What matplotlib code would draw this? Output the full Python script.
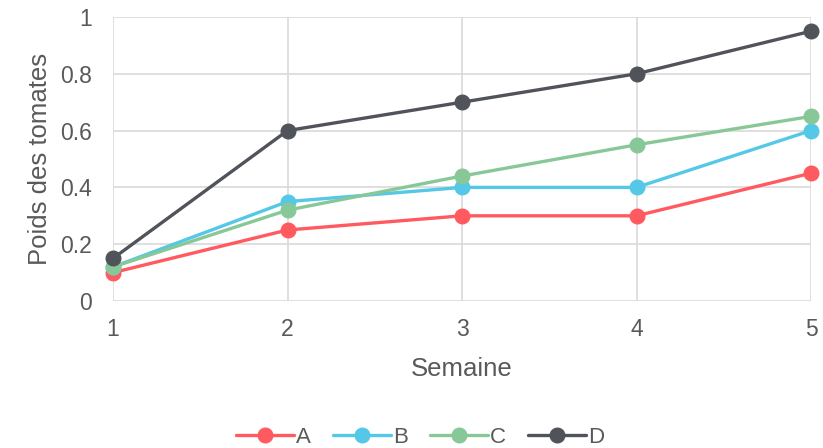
import numpy as np
import matplotlib.pyplot as plt

plt.rcParams['font.family'] = ['Liberation Sans', 'DejaVu Sans']

# data
semaines = [1, 2, 3, 4, 5]
serie_a = [0.10, 0.25, 0.30, 0.30, 0.45]
serie_b = [0.12, 0.35, 0.40, 0.40, 0.60]
serie_c = [0.12, 0.32, 0.44, 0.55, 0.65]
serie_d = [0.15, 0.60, 0.70, 0.80, 0.95]
noms = ['A', 'B', 'C', 'D']
couleurs = ['#FF5A5F', '#55C8E8', '#88C898', '#50535A']

fig = plt.figure(figsize=(8.23, 4.48), dpi=100)
ax = fig.add_axes([113 / 823, 1 - 301 / 448, (811 - 113) / 823, (301 - 17) / 448])

for vals, nom, col in zip([serie_a, serie_b, serie_c, serie_d], noms, couleurs):
    ax.plot(semaines, vals, color=col, lw=2.4, marker='o', ms=10.5, label=nom,
            solid_capstyle='round', clip_on=False, zorder=3)

ax.set_xlim(1, 5)
ax.set_ylim(0, 1)
ax.set_xticks(semaines)
ax.set_yticks([0, 0.2, 0.4, 0.6, 0.8, 1])
ax.set_yticklabels(['0', '0.2', '0.4', '0.6', '0.8', '1'])
ax.grid(True, color='#D9D9D9', lw=1.2)
ax.set_axisbelow(True)
for s in ax.spines.values():
    s.set_visible(False)
ax.tick_params(length=0, labelsize=16.5, colors='#595959')
ax.tick_params(axis='y', pad=15)
ax.tick_params(axis='x', pad=12)
ax.set_xlabel('Semaine', fontsize=18.5, color='#595959', labelpad=12)
ax.set_ylabel('Poids des tomates', fontsize=18.5, color='#595959', labelpad=6)

leg = fig.legend(loc='center', bbox_to_anchor=(420 / 823, 1 - 437 / 448), ncol=4,
                 frameon=False, fontsize=16, handlelength=2.6, handletextpad=0.1,
                 columnspacing=1.0)
for t in leg.get_texts():
    t.set_color('#595959')

fig.savefig('out.png', dpi=100)
